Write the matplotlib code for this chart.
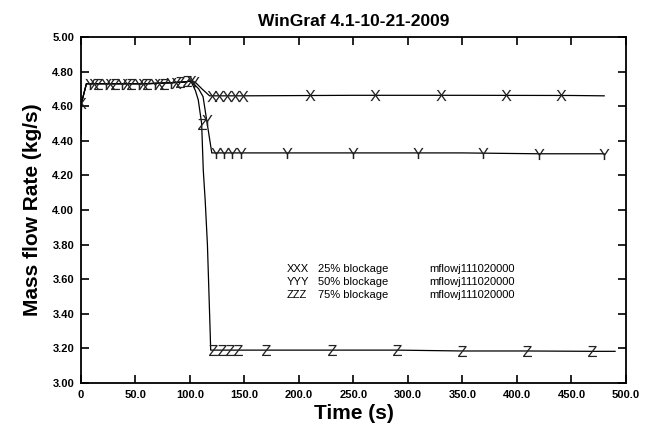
import numpy as np
import matplotlib
matplotlib.use("Agg")
import matplotlib.pyplot as plt
from matplotlib.ticker import FuncFormatter

plt.rcParams['font.family'] = ['Liberation Sans', 'DejaVu Sans']
plt.rcParams['mathtext.fontset'] = 'custom'
plt.rcParams['mathtext.rm'] = 'Liberation Sans'

# ---- data ----
x_time = [0, 0.5, 5, 20, 40, 60, 80, 95, 100, 104.6, 111, 118, 150, 250, 350, 450, 480]
x_vals = [4.44, 4.62, 4.73, 4.73, 4.73, 4.73, 4.735, 4.74, 4.745, 4.74, 4.70, 4.66, 4.66, 4.663, 4.663, 4.662, 4.66]

y_time = [0, 0.5, 5, 20, 40, 60, 80, 95, 100, 102.6, 108, 112, 115.3, 120, 150, 250, 350, 420, 480]
y_vals = [4.44, 4.62, 4.73, 4.73, 4.73, 4.73, 4.735, 4.74, 4.745, 4.735, 4.70, 4.655, 4.52, 4.33, 4.33, 4.33, 4.33, 4.325, 4.325]

z_time = [0, 0.5, 5, 20, 40, 60, 80, 95, 100, 101.6, 105, 107.6, 110.7, 112.2, 114, 116, 117.5, 118.5, 119, 150, 250, 290, 350, 410, 470, 490]
z_vals = [4.44, 4.62, 4.73, 4.73, 4.73, 4.73, 4.735, 4.74, 4.745, 4.735, 4.69, 4.636, 4.50, 4.23, 4.05, 3.80, 3.50, 3.30, 3.19, 3.19, 3.19, 3.19, 3.185, 3.185, 3.183, 3.183]

# marker positions on each curve
x_mark_t = [0, 12, 27, 42, 57, 72, 87, 101, 120, 127, 134, 141, 149, 210, 270, 330, 390, 440]
x_mark_v = [4.62, 4.73, 4.73, 4.73, 4.73, 4.73, 4.735, 4.745, 4.66, 4.66, 4.66, 4.66, 4.66, 4.662, 4.663, 4.663, 4.663, 4.662]

y_mark_t = [8, 23, 38, 53, 68, 83, 104, 115.3, 124, 131, 139, 147, 189, 250, 309, 369, 420, 480]
y_mark_v = [4.73, 4.73, 4.73, 4.73, 4.73, 4.735, 4.74, 4.52, 4.33, 4.33, 4.33, 4.33, 4.33, 4.33, 4.33, 4.33, 4.325, 4.325]

z_mark_t = [16, 31, 46, 61, 76, 91, 97, 110.7, 121, 129, 137, 144, 170, 230, 290, 350, 409, 469]
z_mark_v = [4.73, 4.73, 4.73, 4.73, 4.73, 4.738, 4.745, 4.50, 3.19, 3.19, 3.19, 3.19, 3.19, 3.19, 3.19, 3.185, 3.185, 3.183]

legend_codes = ["XXX", "YYY", "ZZZ"]
legend_desc = ["25% blockage", "50% blockage", "75% blockage"]
legend_file = ["mflowj111020000", "mflowj111020000", "mflowj111020000"]

x_ticks = [0, 50, 100, 150, 200, 250, 300, 350, 400, 450, 500]
y_ticks = [3.00, 3.20, 3.40, 3.60, 3.80, 4.00, 4.20, 4.40, 4.60, 4.80, 5.00]

# ---- figure ----
fig = plt.figure(figsize=(6.52, 4.37), dpi=100)
ax = fig.add_axes([0.1242, 0.1236, 0.8359, 0.7917])

line_kw = dict(color='black', lw=0.9)
ax.plot(x_time, x_vals, **line_kw)
ax.plot(y_time, y_vals, **line_kw)
ax.plot(z_time, z_vals, **line_kw)

mk_kw = dict(ls='none', color='#222222', markersize=8, markeredgewidth=0)
ax.plot(x_mark_t, x_mark_v, marker=r'$\mathrm{X}$', **mk_kw)
ax.plot(y_mark_t, y_mark_v, marker=r'$\mathrm{Y}$', **mk_kw)
ax.plot(z_mark_t, z_mark_v, marker=r'$\mathrm{Z}$', **mk_kw)

ax.set_xlim(0, 500)
ax.set_ylim(3.0, 5.0)
ax.set_xticks(x_ticks)
ax.set_yticks(y_ticks)
ax.xaxis.set_major_formatter(FuncFormatter(lambda v, p: "0" if v == 0 else f"{v:.1f}"))
ax.yaxis.set_major_formatter(FuncFormatter(lambda v, p: f"{v:.2f}"))
ax.tick_params(direction='in', top=True, right=True, length=6, width=1.2,
               labelsize=8, pad=5)
for lab in ax.get_xticklabels() + ax.get_yticklabels():
    lab.set_fontweight('bold')
for s in ax.spines.values():
    s.set_linewidth(1.3)

ax.set_title("WinGraf 4.1-10-21-2009", fontsize=12.5, fontweight='bold', pad=8)
ax.set_xlabel("Time (s)", fontsize=15, fontweight='bold', labelpad=3)
ax.set_ylabel("Mass flow Rate (kg/s)", fontsize=15, fontweight='bold', labelpad=7)

row_y = [0.33, 0.292, 0.254]
for i in range(3):
    ax.text(0.377, row_y[i], legend_codes[i], transform=ax.transAxes, fontsize=8, va='center')
    ax.text(0.434, row_y[i], legend_desc[i], transform=ax.transAxes, fontsize=8, va='center')
    ax.text(0.639, row_y[i], legend_file[i], transform=ax.transAxes, fontsize=8, va='center')

fig.savefig("out.png", dpi=100)
